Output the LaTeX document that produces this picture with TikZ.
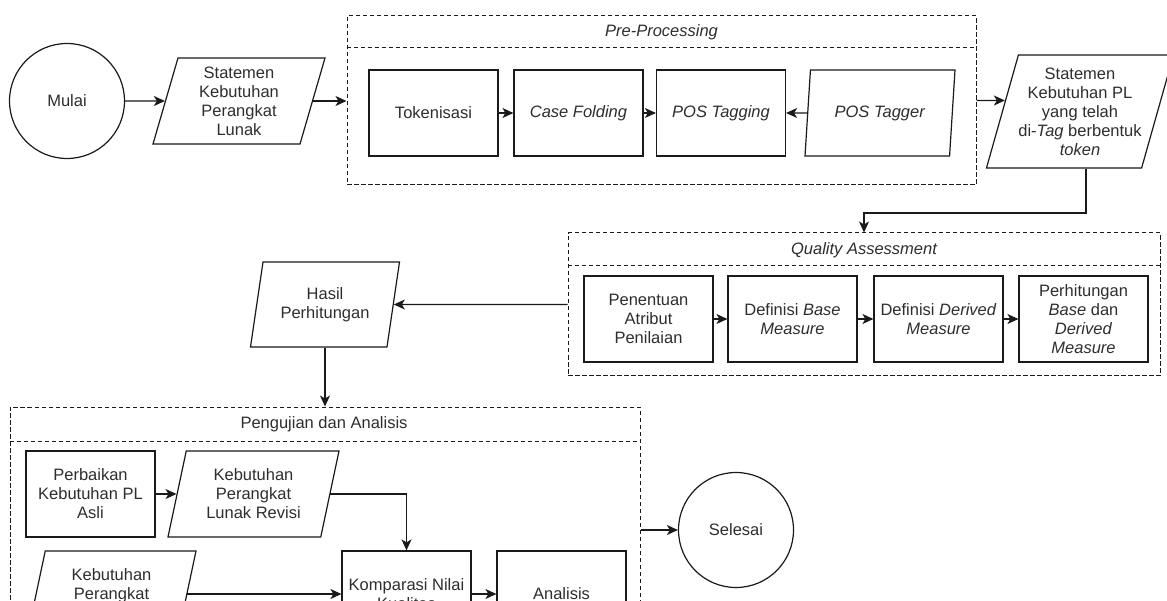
\documentclass[tikz,border=0pt]{standalone}
\usepackage{fontspec}
\setmainfont{Liberation Sans}
\usetikzlibrary{shapes.geometric,arrows.meta,calc}
\definecolor{ln}{HTML}{1A1A1A}
\definecolor{txt}{HTML}{2E2E2E}
\begin{document}
\begin{tikzpicture}[x=1pt,y=-1pt,
  every node/.style={font=\fontsize{16.5}{19}\selectfont, text=txt, align=center, inner sep=0pt},
  box/.style={draw=ln, line width=1.2pt, rectangle, minimum width=129pt, minimum height=86pt},
  para/.style={draw=ln, line width=1.2pt, trapezium, trapezium left angle=70, trapezium right angle=110, trapezium stretches body, minimum height=86pt},
  term/.style={draw=ln, line width=1.2pt, circle, minimum size=115pt},
  grp/.style={draw=ln, line width=1pt, dash pattern=on 4.5pt off 2.5pt, rectangle},
  ttl/.style={font=\fontsize{16.5}{19}\selectfont\itshape},
  arr/.style={draw=ln, line width=1.3pt, -{Stealth[length=11pt,width=10pt,inset=3pt]}},
]
\useasboundingbox (0,0) rectangle (1167,601);
\fill[white] (0,0) rectangle (1167,601);
\clip (0,0) rectangle (1167,601);

% top row
\node[term] (mulai) at (67,101) {Mulai};
\node[para, minimum width=172pt] (stm) at (239,101) {Statemen\\Kebutuhan\\Perangkat\\Lunak};

\node[grp, minimum width=629pt, minimum height=169pt] (pre) at (661.5,100.5) {};
\coordinate (preh) at (0,48);
\draw[grp] (pre.west |- preh) -- (pre.east |- preh);
\node[ttl] (pretitle) at (661.5,32) {Pre-Processing};

\node[box] (tok) at (433.5,113) {Tokenisasi};
\node[box] (cf) at (578.5,113) {\textit{Case Folding}};
\node[box] (post) at (721,113) {\textit{POS Tagging}};
\node[para, minimum width=150pt] (tagger) at (880,113) {\textit{POS Tagger}};

\node[para, minimum width=172pt, minimum height=113pt] (stmpl) at (1080,111.5) {Statemen\\Kebutuhan PL\\yang telah\\di-\textit{Tag} berbentuk\\\textit{token}};

% quality assessment
\node[grp, minimum width=592pt, minimum height=143pt] (qa) at (864,304.5) {};
\coordinate (qah) at (0,266);
\draw[grp] (qa.west |- qah) -- (qa.east |- qah);
\node[ttl] (qatitle) at (864,250) {Quality Assessment};
\node[box] (pen) at (648.5,319) {Penentuan\\Atribut\\Penilaian};
\node[box] (bm) at (792.5,319) {Definisi \textit{Base}\\\textit{Measure}};
\node[box] (dm) at (938.5,319) {Definisi \textit{Derived}\\\textit{Measure}};
\node[box] (ph) at (1083.5,319) {Perhitungan\\\textit{Base} dan\\\textit{Derived}\\\textit{Measure}};

\node[para, minimum width=149pt, minimum height=85pt] (hasil) at (325,304.5) {Hasil\\Perhitungan};

% pengujian
\node[grp, minimum width=630pt, minimum height=246pt] (peng) at (325,530) {};
\coordinate (pengh) at (0,441);
\draw[grp] (peng.west |- pengh) -- (peng.east |- pengh);
\node (pengtitle) at (324,424) {Pengujian dan Analisis};
\node[box] (perb) at (90.5,494) {Perbaikan\\Kebutuhan PL\\Asli};
\node[para, minimum width=171pt] (rev) at (253.5,494) {Kebutuhan\\Perangkat\\Lunak Revisi};
\node[para, minimum width=169pt] (kebb) at (111.5,594) {Kebutuhan\\Perangkat\\\phantom{Lunak}};
\node[box] (komp) at (406.5,594) {Komparasi Nilai\\Kualitas};
\node[box] (anal) at (561.5,594) {Analisis};
\node[term] (sel) at (736,530) {Selesai};

% connectors
\draw[arr] (mulai) -- (stm);
\draw[arr] (stm.east) -- (stm.east -| pre.west);
\draw[arr] (tok) -- (cf);
\draw[arr] (cf) -- (post);
\draw[arr] (tagger) -- (post);
\coordinate (preE2) at ($(pre.east)+(60,0)$);
\coordinate (plx) at (intersection of stmpl.bottom left corner--stmpl.top left corner and pre.east--preE2);
\draw[arr] (pre.east) -- (plx);
\coordinate (b1) at (1086,213);
\draw[arr] (stmpl.south -| b1) -- (b1) -| (qa.north);
\draw[arr] (pen) -- (bm);
\draw[arr] (bm) -- (dm);
\draw[arr] (dm) -- (ph);
\draw[arr] (qa.west) -- (hasil);
\draw[arr] (hasil.south -| peng.north) -- (peng.north);
\draw[arr] (perb) -- (rev);
\draw[arr] (rev) -| (komp);
\draw[arr] (kebb) -- (komp);
\draw[arr] (komp) -- (anal);
\draw[arr] (peng.east) -- (sel);
\end{tikzpicture}
\end{document}
